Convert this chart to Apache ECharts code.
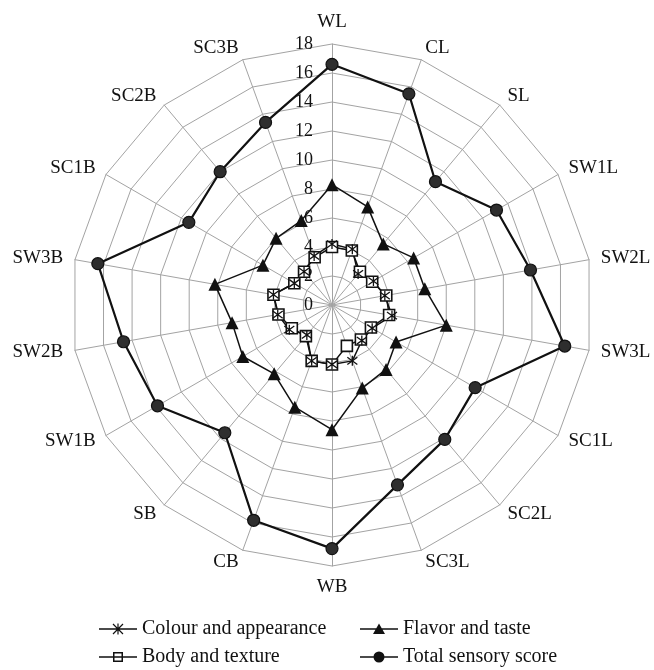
<!DOCTYPE html>
<html>
<head>
<meta charset="utf-8">
<script src="https://cdn.jsdelivr.net/npm/echarts@6/dist/echarts.min.js"></script>
<style>
  html, body { margin: 0; padding: 0; background: #fff; }
  #chart { width: 654px; height: 670px; }
</style>
</head>
<body>
<div id="chart"></div>
<script>
// Sample codes, listed clockwise from the top spoke
const categories = ['WL', 'CL', 'SL', 'SW1L', 'SW2L', 'SW3L', 'SC1L', 'SC2L', 'SC3L',
                    'WB', 'CB', 'SB', 'SW1B', 'SW2B', 'SW3B', 'SC1B', 'SC2B', 'SC3B'];

// Sensory scores per sample
const colourAppearance = [4.2, 4.1, 2.8, 3.3, 3.7, 4.2, 3.2, 3.2, 4.1, 4.1, 4.1, 2.7, 3.4, 3.8, 4.1, 3.0, 3.0, 3.6];
const bodyTexture      = [4.0, 4.0, 3.0, 3.2, 3.8, 4.0, 3.1, 3.1, 3.0, 4.1, 4.1, 2.8, 3.2, 3.75, 4.1, 3.0, 3.0, 3.5];
const flavorTaste      = [8.3, 7.2, 5.5, 6.5, 6.5, 8.0, 5.1, 5.8, 6.1, 8.6, 7.5, 6.2, 7.1, 7.0, 8.2, 5.5, 6.0, 6.2];
const totalScore       = [16.6, 15.5, 11.1, 13.1, 13.9, 16.3, 11.4, 12.1, 13.2, 16.8, 15.8, 11.5, 13.9, 14.6, 16.4, 11.4, 12.0, 13.4];

// Value axis
const axisMin = 0;
const axisMax = 18;
const axisStep = 2;

const FONT = '"Liberation Serif", "Times New Roman", serif';
const INK = '#111';
const GRID = '#a3a3a3';

// ECharts lays radar spokes out counter-clockwise; reorder so they run clockwise.
const toClockwise = arr => [arr[0]].concat(arr.slice(1).reverse());

const indicator = toClockwise(categories).map((name, i) => {
  const ind = { name: name, min: axisMin, max: axisMax };
  if (i === 0) {
    ind.axisLabel = { show: true, color: INK, fontSize: 18, fontFamily: FONT, margin: 19 };
  }
  return ind;
});

// Legend icons (38 x 14 box): line through a marker
const frame = 'M0,0L1,0L0,0Z M0,14L1,14L0,14Z ';
const bar = 'M0,6.25L38,6.25L38,7.75L0,7.75Z ';
const iconColour = 'path://' + frame + bar +
  'M18.4,1.5L19.6,1.5L19.6,12.5L18.4,12.5Z ' +
  'M14.42,1.58L24.42,11.58L23.58,12.42L13.58,2.42Z ' +
  'M13.58,11.58L23.58,1.58L24.42,2.42L14.42,12.42Z';
const iconBody = 'path://' + frame + bar +
  'M14,2L24,2L24,12L14,12Z M15.5,3.5L15.5,10.5L22.5,10.5L22.5,3.5Z';
const iconFlavor = 'path://' + frame + bar + 'M19,1.5L25,12L13,12Z';
const iconTotal = 'path://' + frame + bar +
  'M13.5,7A5.5,5.5 0 1,1 24.5,7A5.5,5.5 0 1,1 13.5,7Z';

// Series marker for the colour score: an X with a vertical stroke
const asterisk = 'path://M0,-5L0,5M-3.6,-3.6L3.6,3.6M-3.6,3.6L3.6,-3.6';

function radarSeries(name, values, symbol, size, itemStyle, lineWidth) {
  return {
    type: 'radar',
    name: name,
    symbol: symbol,
    symbolSize: size,
    symbolKeepAspect: true,
    lineStyle: { color: INK, width: lineWidth },
    itemStyle: itemStyle,
    silent: true,
    data: [{ name: name, value: toClockwise(values) }]
  };
}

const legendText = { color: INK, fontSize: 20, fontFamily: FONT };

function legendColumn(left, items) {
  return {
    orient: 'vertical', left: left, top: 619, width: 260, height: 60, padding: 0,
    itemWidth: 38, itemHeight: 14, itemGap: 8,
    textStyle: legendText, selectedMode: false,
    data: items.map(([name, icon]) => ({ name: name, icon: icon, itemStyle: { color: INK, borderWidth: 0 } }))
  };
}

const option = {
  animation: false,
  backgroundColor: '#fff',
  legend: [
    legendColumn(99, [['Colour and appearance', iconColour], ['Body and texture', iconBody]]),
    legendColumn(360, [['Flavor and taste', iconFlavor], ['Total sensory score', iconTotal]])
  ],
  radar: {
    center: [332, 305],
    radius: 261,
    startAngle: 90,
    splitNumber: (axisMax - axisMin) / axisStep,
    shape: 'polygon',
    indicator: indicator,
    nameGap: 12,
    axisName: { color: INK, fontSize: 19, fontFamily: FONT },
    axisLine: { show: true, lineStyle: { color: GRID, width: 1 } },
    axisTick: { show: false },
    axisLabel: { show: false },
    splitLine: { show: true, lineStyle: { color: GRID, width: 1 } },
    splitArea: { show: false }
  },
  series: [
    radarSeries('Body and texture', bodyTexture, 'rect', 11,
      { color: '#fff', borderColor: INK, borderWidth: 1.6 }, 1.5),
    radarSeries('Colour and appearance', colourAppearance, asterisk, 10,
      { color: 'none', borderColor: INK, borderWidth: 1.3 }, 1.5),
    radarSeries('Flavor and taste', flavorTaste, 'triangle', 13,
      { color: INK, borderColor: INK, borderWidth: 0 }, 1.5),
    radarSeries('Total sensory score', totalScore, 'circle', 12,
      { color: '#2e2e2e', borderColor: INK, borderWidth: 1.2 }, 2.2)
  ]
};

const chart = echarts.init(document.getElementById('chart'), null, { renderer: 'canvas' });
chart.setOption(option);
</script>
</body>
</html>
